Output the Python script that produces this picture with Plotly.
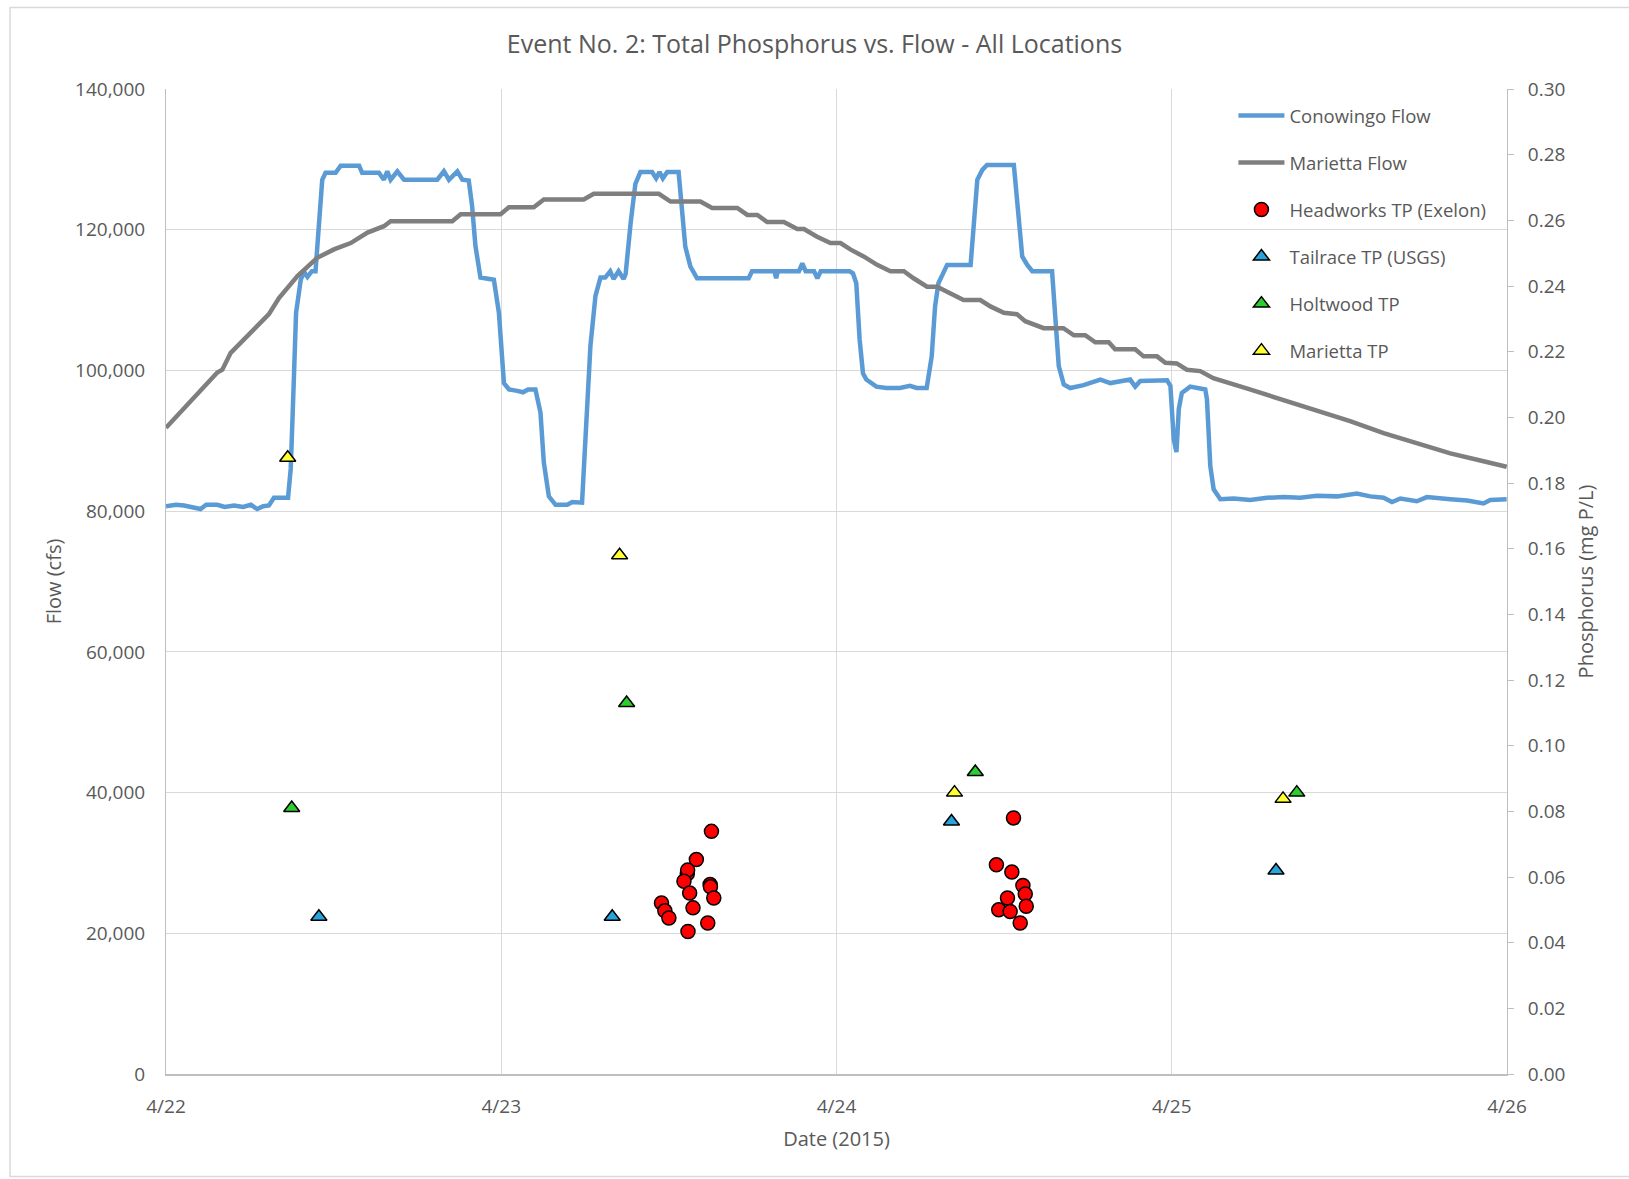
import pandas as pd
import plotly.graph_objects as go

BASE = pd.Timestamp("2015-04-22")

# ---- Conowingo flow (days since 4/22 00:00, cfs) ----
cono_days = [0.000, 0.030, 0.054, 0.080, 0.103, 0.120, 0.153, 0.175, 0.203, 0.230, 0.253, 0.272, 0.290, 0.307,
             0.322, 0.364, 0.372, 0.378, 0.388, 0.402, 0.412, 0.422, 0.435, 0.446, 0.456, 0.466, 0.476, 0.506,
             0.521, 0.576, 0.585, 0.635, 0.650, 0.660, 0.670, 0.690, 0.710, 0.809, 0.829, 0.844, 0.869, 0.884,
             0.903, 0.913, 0.923, 0.938, 0.978, 0.993, 1.008, 1.023, 1.048, 1.065, 1.080, 1.102, 1.117, 1.127,
             1.142, 1.162, 1.197, 1.212, 1.241, 1.251, 1.266, 1.281, 1.296, 1.310, 1.325, 1.335, 1.350, 1.365,
             1.371, 1.386, 1.400, 1.415, 1.450, 1.462, 1.472, 1.482, 1.495, 1.529, 1.539, 1.549, 1.564, 1.584,
             1.738, 1.748, 1.815, 1.820, 1.825, 1.888, 1.898, 1.908, 1.933, 1.943, 1.953, 2.039, 2.049, 2.059,
             2.069, 2.079, 2.089, 2.119, 2.149, 2.189, 2.219, 2.239, 2.269, 2.284, 2.294, 2.304, 2.330, 2.400,
             2.410, 2.420, 2.435, 2.449, 2.529, 2.539, 2.554, 2.569, 2.584, 2.643, 2.653, 2.663, 2.678, 2.697,
             2.737, 2.787, 2.817, 2.876, 2.891, 2.906, 2.986, 2.996, 3.006, 3.014, 3.021, 3.030, 3.055, 3.100,
             3.105, 3.115, 3.125, 3.145, 3.185, 3.234, 3.284, 3.334, 3.383, 3.433, 3.493, 3.552, 3.592, 3.632,
             3.657, 3.682, 3.731, 3.761, 3.831, 3.881, 3.930, 3.950, 3.999]
cono_flow = [80700, 80900, 80800, 80500, 80300, 80900, 80900, 80600, 80800, 80600, 80900, 80300, 80700, 80800,
             81900, 81900, 86000, 94000, 108200, 112900, 114000, 113300, 114100, 114100, 120000, 127100, 128100, 128100,
             129100, 129100, 128100, 128100, 127100, 128300, 127100, 128300, 127100, 127100, 128300, 127100, 128300, 127100,
             127000, 123400, 117700, 113200, 112900, 108200, 98200, 97300, 97100, 96900, 97300, 97300, 94000, 86900,
             82100, 80900, 80900, 81300, 81200, 89200, 103500, 110600, 113200, 113200, 114100, 113000, 114100, 113000,
             113700, 121000, 126500, 128200, 128200, 127300, 128200, 127300, 128200, 128200, 123300, 117600, 114800, 113100,
             113100, 114100, 114100, 113100, 114100, 114100, 115200, 114100, 114100, 113100, 114100, 114100, 113800, 112400,
             104400, 99600, 98700, 97700, 97500, 97500, 97800, 97500, 97500, 102000, 109100, 112400, 115000, 115000,
             121000, 127100, 128500, 129200, 129200, 123300, 116200, 115000, 114100, 114100, 106700, 100600, 98000, 97500,
             97900, 98700, 98200, 98700, 97700, 98500, 98600, 97800, 90200, 88400, 94500, 96800, 97700, 97300,
             95900, 86400, 83100, 81700, 81800, 81600, 81900, 82000, 81900, 82200, 82100, 82500, 82100, 81900,
             81300, 81800, 81400, 82000, 81700, 81500, 81100, 81600, 81700]

# ---- Marietta flow ----
mar_days = [0.000, 0.153, 0.168, 0.193, 0.307, 0.337, 0.392, 0.451, 0.501, 0.551, 0.601, 0.650, 0.670, 0.854,
            0.879, 0.998, 1.023, 1.097, 1.127, 1.246, 1.276, 1.470, 1.505, 1.594, 1.629, 1.704, 1.734, 1.764,
            1.793, 1.843, 1.883, 1.903, 1.942, 1.982, 2.012, 2.041, 2.081, 2.121, 2.161, 2.201, 2.230, 2.270,
            2.300, 2.340, 2.379, 2.429, 2.459, 2.499, 2.538, 2.563, 2.618, 2.677, 2.708, 2.742, 2.772, 2.812,
            2.831, 2.891, 2.916, 2.956, 2.981, 3.015, 3.045, 3.085, 3.124, 3.233, 3.333, 3.433, 3.532, 3.632,
            3.731, 3.831, 3.930, 3.999]
mar_flow = [91850, 99700, 100100, 102500, 108000, 110300, 113400, 116000, 117200, 118100, 119600, 120500, 121200, 121200,
            122200, 122200, 123200, 123200, 124300, 124300, 125100, 125100, 124000, 124000, 123100, 123100, 122100, 122100,
            121100, 121100, 120100, 120100, 119000, 118100, 118100, 117200, 116200, 115000, 114100, 114100, 113100, 111900,
            111900, 111000, 110000, 110000, 109100, 108200, 108000, 107000, 106000, 106000, 105000, 105000, 104000, 104000,
            103000, 103000, 102000, 102000, 101100, 101000, 100100, 99900, 98900, 97300, 95800, 94200, 92800, 91100,
            89600, 88200, 87100, 86300]

# ---- Phosphorus samples (days, mg P/L) ----
head_days = [1.627, 1.582, 1.555, 1.556, 1.545, 1.623, 1.624, 1.562, 1.634, 1.478, 1.488, 1.500, 1.572, 1.616, 1.557,
             2.528, 2.477, 2.523, 2.556, 2.563, 2.510, 2.566, 2.484, 2.518, 2.548]
head_tp = [0.0739, 0.0653, 0.0610, 0.0621, 0.0587, 0.0577, 0.0570, 0.0551, 0.0536, 0.0521, 0.0497, 0.0475, 0.0506,
           0.0460, 0.0434,
           0.0780, 0.0637, 0.0615, 0.0574, 0.0548, 0.0536, 0.0511, 0.0500, 0.0495, 0.0460]
tail_days = [0.456, 1.331, 2.343, 3.311]
tail_tp = [0.0479, 0.0479, 0.0769, 0.0620]
holt_days = [0.375, 1.374, 2.414, 3.373]
holt_tp = [0.0810, 0.1130, 0.0920, 0.0857]
mtp_days = [0.363, 1.353, 2.352, 3.332]
mtp_tp = [0.1877, 0.1580, 0.0857, 0.0838]


def to_dt(days):
    return BASE + pd.to_timedelta(pd.Series(days), unit="D")


TXT = "#595959"
GRID = "#D9D9D9"
FONT = "Open Sans"

fig = go.Figure()
fig.add_trace(go.Scatter(x=to_dt(cono_days), y=cono_flow, mode="lines", name="Conowingo Flow",
                         line=dict(color="#5B9BD5", width=4.5), legendgroup="a"))
fig.add_trace(go.Scatter(x=to_dt(mar_days), y=mar_flow, mode="lines", name="Marietta Flow",
                         line=dict(color="#7F7F7F", width=4.5), legendgroup="b"))
fig.add_trace(go.Scatter(x=to_dt(head_days), y=head_tp, mode="markers", name="Headworks TP (Exelon)", yaxis="y2",
                         marker=dict(symbol="circle", size=14, color="#FF0000", line=dict(color="#000000", width=1.5)),
                         legendgroup="c"))
fig.add_trace(go.Scatter(x=to_dt(tail_days), y=tail_tp, mode="markers", name="Tailrace TP (USGS)", yaxis="y2",
                         marker=dict(symbol="triangle-up", size=14, color="#29A3DB", line=dict(color="#000000", width=1.5)),
                         legendgroup="d"))
fig.add_trace(go.Scatter(x=to_dt(holt_days), y=holt_tp, mode="markers", name="Holtwood TP", yaxis="y2",
                         marker=dict(symbol="triangle-up", size=14, color="#2ECC2E", line=dict(color="#000000", width=1.5)),
                         legendgroup="e"))
fig.add_trace(go.Scatter(x=to_dt(mtp_days), y=mtp_tp, mode="markers", name="Marietta TP", yaxis="y2",
                         marker=dict(symbol="triangle-up", size=14, color="#FFFF33", line=dict(color="#000000", width=1.5)),
                         legendgroup="f"))

fig.update_layout(
    width=1629, height=1179,
    margin=dict(l=166, r=122, t=89, b=105),
    paper_bgcolor="white", plot_bgcolor="white",
    font=dict(family=FONT, color=TXT, size=19),
    title=dict(text="Event No. 2: Total Phosphorus vs. Flow - All Locations", x=0.5, xref="container",
               y=1 - 44 / 1179, yref="container", yanchor="middle", xanchor="center",
               font=dict(size=25, color=TXT, family=FONT)),
    xaxis=dict(type="date", range=["2015-04-22", "2015-04-26"], dtick=86400000, tick0="2015-04-22",
               tickformat="%-m/%-d", showgrid=True, gridcolor=GRID, gridwidth=1,
               showline=True, linecolor="#BFBFBF", linewidth=1.5, ticks="", ticklabelstandoff=14,
               title=dict(text="Date (2015)", font=dict(size=20), standoff=14), zeroline=False),
    yaxis=dict(range=[0, 140000], dtick=20000, tickformat=",", showgrid=True, gridcolor=GRID, gridwidth=1,
               showline=True, linecolor="#BFBFBF", linewidth=1, ticks="", ticklabelstandoff=16, zeroline=False,
               title=dict(text="Flow (cfs)", font=dict(size=20), standoff=8)),
    yaxis2=dict(range=[0, 0.30], dtick=0.02, tickformat=".2f", overlaying="y", side="right", showgrid=False,
                showline=True, linecolor="#BFBFBF", linewidth=1, ticks="outside", ticklen=6, tickcolor="#BFBFBF",
                ticklabelstandoff=10, zeroline=False,
                title=dict(text="Phosphorus (mg P/L)", font=dict(size=20), standoff=14)),
    legend=dict(x=0.796, y=0.992, xanchor="left", yanchor="top", bgcolor="rgba(0,0,0,0)",
                font=dict(size=18.5, color=TXT), tracegroupgap=20, itemwidth=46),
    showlegend=True,
)

fig.add_shape(type="rect", xref="paper", yref="paper", x0=-0.1163, x1=1.0955, y0=-0.104, y1=1.0827,
              line=dict(color="#D9D9D9", width=1.5), fillcolor="rgba(0,0,0,0)", layer="below")

fig.write_html("out.html")
